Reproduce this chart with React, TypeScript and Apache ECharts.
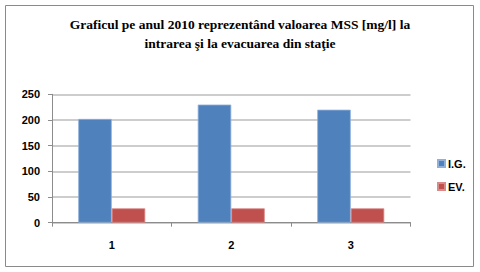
import React, { useEffect, useRef } from "react";
import * as echarts from "echarts";

const categories = ["1", "2", "3"];
const seriesNames = ["I.G.", "EV."];
const igValues = [202, 230, 220];
const evValues = [28, 28, 28];
const titleLines = [
  "Graficul pe anul 2010 reprezentând valoarea MSS [mg/l] la",
  "intrarea şi la evacuarea din staţie",
];

export default function App() {
  const ref = useRef<HTMLDivElement>(null);
  useEffect(() => {
    const chart = echarts.init(ref.current!, null, { renderer: "svg" });
    const labelFont = {
      fontFamily: "Liberation Sans, Arial, sans-serif",
      fontWeight: "bold" as const,
      fontSize: 11,
      color: "#000",
    };
    chart.setOption({
      animation: false,
      backgroundColor: "#fff",
      title: {
        text: titleLines.join("\n"),
        left: "center",
        top: 10,
        textStyle: {
          fontFamily: "Liberation Serif, Times New Roman, serif",
          fontWeight: "bold",
          fontSize: 13.5,
          lineHeight: 19,
          color: "#000",
        },
      },
      graphic: [
        {
          type: "rect",
          shape: { x: 5.5, y: 5.5, width: 468, height: 261 },
          style: { fill: "none", stroke: "#8a8a8a", lineWidth: 1 },
          silent: true,
        },
      ],
      legend: {
        orient: "vertical",
        left: 432,
        top: 153,
        itemWidth: 7,
        itemHeight: 7,
        itemGap: 12,
        icon: "rect",
        data: seriesNames,
        textStyle: { ...labelFont, padding: [0, 0, 0, -2] },
      },
      grid: { left: 52, right: 69.5, top: 94.3, bottom: 49.3 },
      xAxis: {
        type: "category",
        data: categories,
        axisLine: { lineStyle: { color: "#8c8c8c", width: 1 } },
        axisTick: { show: true, length: 4, lineStyle: { color: "#8c8c8c" } },
        axisLabel: { ...labelFont, margin: 17 },
      },
      yAxis: {
        type: "value",
        min: 0,
        max: 250,
        interval: 50,
        axisLine: { show: true, lineStyle: { color: "#8c8c8c", width: 1 } },
        axisTick: { show: true, length: 4, lineStyle: { color: "#8c8c8c" } },
        axisLabel: { ...labelFont, margin: 12 },
        splitLine: { lineStyle: { color: "#bdbdbd", width: 1.5 } },
      },
      series: [
        {
          name: seriesNames[0],
          type: "bar",
          data: igValues,
          barWidth: 33.5,
          barGap: "0%",
          itemStyle: { color: "#4F81BD", borderColor: "#8fb0da", borderWidth: 0.8 },
        },
        {
          name: seriesNames[1],
          type: "bar",
          data: evValues,
          barWidth: 33.5,
          itemStyle: { color: "#C0504D", borderColor: "#d98a88", borderWidth: 0.8 },
        },
      ],
    });
    return () => chart.dispose();
  }, []);
  return (
    <div
      ref={ref}
      style={{ position: "fixed", left: 0, top: 0, width: 480, height: 272 }}
    />
  );
}
